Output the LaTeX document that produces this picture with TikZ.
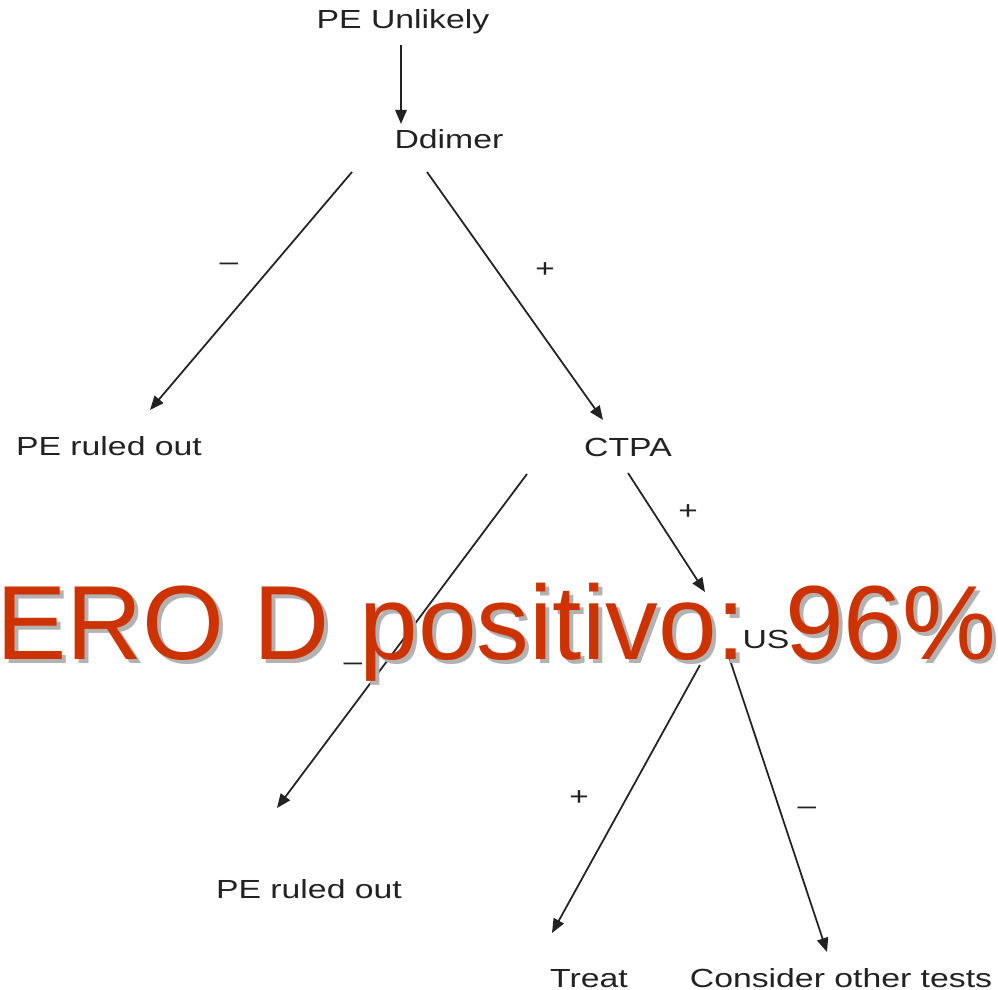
\documentclass[tikz,border=0pt]{standalone}
\usepackage{fontspec}
\setmainfont{Liberation Sans}
\newfontfamily\treefont[FakeStretch=1.29]{Liberation Sans}
\usetikzlibrary{arrows.meta,calc}
\definecolor{erored}{RGB}{204,51,0}
\definecolor{shadowgray}{RGB}{178,178,178}
\definecolor{inkgray}{RGB}{34,34,34}

\begin{document}
\begin{tikzpicture}[x=0.02cm,y=-0.02cm,
  txt/.style={anchor=base,inner sep=0pt,text=inkgray,font=\treefont\fontsize{14.9}{17}\selectfont},
  sgn/.style={inner sep=0pt,text=inkgray,font=\treefont\fontsize{14.7}{17}\selectfont},
  arr/.style={draw=inkgray,line width=1pt,-{Triangle[length=8pt,width=6.5pt]}},
  big/.style={anchor=base west,inner sep=0pt,font=\fontsize{60}{72}\selectfont}]
\useasboundingbox (0,0) rectangle (998,990);
% draw nodes
\node[txt] (unlikely) at (403,29) {PE Unlikely};
\node[txt] (ddimer) at (449,149) {Ddimer};
\node[txt] (ruledA) at (109,455) {PE ruled out};
\node[txt] (ctpa) at (628,456) {CTPA};
\node[txt] (us) at (766,648) {US};
\node[txt] (ruledB) at (309,898) {PE ruled out};
\node[txt] (treat) at (589,987) {Treat};
\node[txt] (other) at (841,987) {Consider other tests};
% draw arrows
\draw[arr] ($(unlikely.base)+(-2,16)$) -- ($(ddimer.base)+(-48,-25)$);
\draw[arr] ($(ddimer.base)+(-97,23)$) -- ($(ruledA.base)+(41,-45)$);
\draw[arr] ($(ddimer.base)+(-22,23)$) -- ($(ctpa.base)+(-25,-36)$);
\draw[arr] ($(ctpa.base)+(-101,18)$) -- ($(ruledB.base)+(-32,-90)$);
\draw[arr] ($(ctpa.base)+(0,17)$) -- ($(us.base)+(-61,-56)$);
\draw[arr] ($(us.base)+(-66,17)$) -- ($(treat.base)+(-37,-54)$);
\draw[arr] ($(us.base)+(-37,9)$) -- ($(other.base)+(-14,-35)$);
% draw signs
\node[sgn] (negA) at (229,267) {–};
\node[sgn] (posA) at (545,270) {+};
\node[sgn] (posB) at (688,512) {+};
\node[sgn] (negB) at (353,667) {–};
\node[sgn] (posC) at (579,798) {+};
\node[sgn] (negC) at (807,811) {–};
% overlay text
\node[big,text=shadowgray] (shadow) at (0,663) {ERO D positivo: 96\%};
\node[big,text=erored] (title) at (-4,659) {ERO D positivo: 96\%};
\end{tikzpicture}
\end{document}
